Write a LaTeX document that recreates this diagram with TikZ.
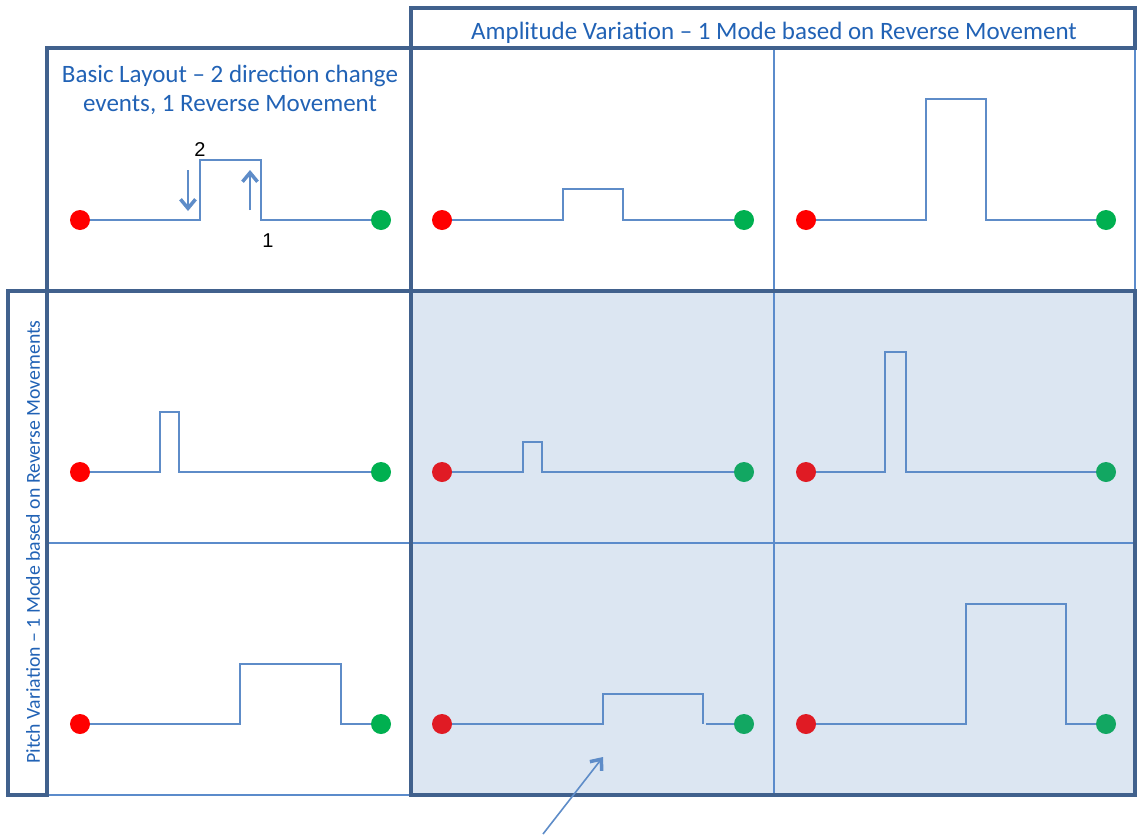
\documentclass[tikz,border=0pt]{standalone}
\usepackage{fontspec}
\setmainfont{Carlito}
\newfontfamily\arialf{Liberation Sans}
\usetikzlibrary{arrows.meta}
\definecolor{framecol}{HTML}{41618D}
\definecolor{thincol}{HTML}{5B8BCB}
\definecolor{wavecol}{HTML}{5E8CC8}
\definecolor{shadecol}{HTML}{DCE6F2}
\definecolor{txtcol}{HTML}{2162B5}
\definecolor{redA}{HTML}{FF0000}
\definecolor{greenA}{HTML}{00B050}
\definecolor{redB}{HTML}{E01B24}
\definecolor{greenB}{HTML}{12A762}
\tikzset{
  thickbox/.style={draw=framecol, line width=3.5pt},
  thinline/.style={draw=thincol, line width=1.2pt},
  wave/.style={draw=wavecol, line width=1.5pt, line join=miter},
  dotbase/.style={circle, inner sep=0pt, minimum size=20pt},
  rdot/.style={dotbase, fill=redA},
  gdot/.style={dotbase, fill=greenA},
  rdotb/.style={dotbase, fill=redB},
  gdotb/.style={dotbase, fill=greenB},
  ptr/.style={draw=wavecol, line width=1.6pt, -{Straight Barb[length=9pt,width=15pt,line width=3.5pt 0]}},
  heading/.style={text=txtcol, font=\fontsize{25}{29}\selectfont, inner sep=0pt},
  sidehead/.style={text=txtcol, font=\fontsize{19.8}{22}\selectfont, inner sep=0pt, rotate=90},
  numlab/.style={font=\arialf\fontsize{20}{20}\selectfont, inner sep=0pt}
}
\begin{document}
\begin{tikzpicture}[x=1pt,y=-1pt]
\useasboundingbox (0,0) rectangle (1137,838);
% shaded region
\fill[shadecol] (411,291) rectangle (1135,795);
% thin grid lines
\draw[thinline] (774,48) -- (774,795);
\draw[thinline] (47,543) -- (1135,543);
\draw[thinline] (47,795) -- (411,795);
\draw[thinline] (1135,48) -- (1135,291);
% thick boxes
\draw[thickbox] (411,8) rectangle (1135,48);
\draw[thickbox] (47,48) rectangle (411,291);
\draw[thickbox] (8,291) rectangle (47,795);
\draw[thickbox] (411,291) rectangle (1135,795);
% headings
\node[heading] (hamp) at (774,32.5) {Amplitude Variation – 1 Mode based on Reverse Movement};
\node[heading, align=center] (hbasic) at (230,90) {Basic Layout – 2 direction change\\events, 1 Reverse Movement};
\node[sidehead] (hpitch) at (33,542) {Pitch Variation – 1 Mode based on Reverse Movements};
% dots
\node[rdot] (r00) at (80,220) {};   \node[gdot] (g00) at (381,220) {};
\node[rdot] (r01) at (442,220) {};  \node[gdot] (g01) at (744,220) {};
\node[rdot] (r02) at (806,220) {};  \node[gdot] (g02) at (1106,220) {};
\node[rdot] (r10) at (80,472) {};   \node[gdot] (g10) at (381,472) {};
\node[rdotb] (r11) at (442,472) {}; \node[gdotb] (g11) at (744,472) {};
\node[rdotb] (r12) at (806,472) {}; \node[gdotb] (g12) at (1106,472) {};
\node[rdot] (r20) at (80,724) {};   \node[gdot] (g20) at (381,724) {};
\node[rdotb] (r21) at (442,724) {}; \node[gdotb] (g21) at (744,724) {};
\node[rdotb] (r22) at (806,724) {}; \node[gdotb] (g22) at (1106,724) {};
% waves
\draw[wave] (r00) -- (200,220) -- (200,160) -- (261,160) -- (261,220) -- (g00);
\draw[wave] (r01) -- (563,220) -- (563,189) -- (623,189) -- (623,220) -- (g01);
\draw[wave] (r02) -- (926,220) -- (926,99) -- (986,99) -- (986,220) -- (g02);
\draw[wave] (r10) -- (160,472) -- (160,412) -- (179,412) -- (179,472) -- (g10);
\draw[wave] (r11) -- (523,472) -- (523,442) -- (542,442) -- (542,472) -- (g11);
\draw[wave] (r12) -- (885,472) -- (885,352) -- (906,352) -- (906,472) -- (g12);
\draw[wave] (r20) -- (240,724) -- (240,664) -- (341,664) -- (341,724) -- (g20);
\coordinate (gap21) at (706,724);
\draw[wave] (r21) -- (603,724) -- (603,694) -- (703,694) -- (703,724);
\draw[wave] (gap21) -- (g21);
\draw[wave] (r22) -- (966,724) -- (966,604) -- (1066,604) -- (1066,724) -- (g22);
% direction arrows in basic layout
\coordinate (a1s) at (188,170); \coordinate (a1e) at (188,211);
\coordinate (a2s) at (250,210); \coordinate (a2e) at (250,170);
\draw[ptr] (a1s) -- (a1e);
\draw[ptr] (a2s) -- (a2e);
\node[numlab] (n2) at (200,150) {2};
\node[numlab] (n1) at (268,241) {1};
% pointer arrow at the bottom
\coordinate (p1) at (543,834);
\coordinate (p2) at (603,757);
\draw[ptr] (p1) -- (p2);
\end{tikzpicture}
\end{document}
